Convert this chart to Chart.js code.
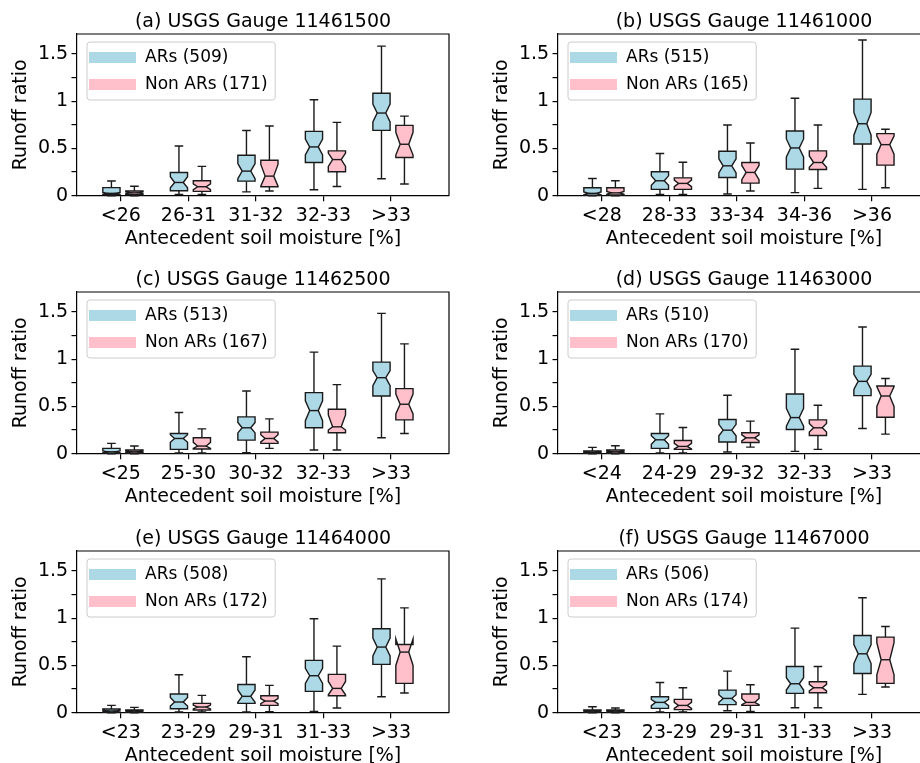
<!DOCTYPE html>
<html>
<head>
<meta charset="utf-8">
<script src="https://cdn.jsdelivr.net/npm/chart.js@4.4.1/dist/chart.umd.min.js"></script>
<style>
  html, body { margin: 0; padding: 0; background: #ffffff; }
  #page { position: relative; width: 920px; height: 763px; overflow: hidden; background: #ffffff; }
  #page canvas { position: absolute; }
</style>
</head>
<body>
<div id="page"></div>
<script>
// ---------------- data ----------------
const panelTitles = ['(a) USGS Gauge 11461500', '(b) USGS Gauge 11461000', '(c) USGS Gauge 11462500',
                     '(d) USGS Gauge 11463000', '(e) USGS Gauge 11464000', '(f) USGS Gauge 11467000'];
const moistureBins = [
  ['<26', '26-31', '31-32', '32-33', '>33'],
  ['<28', '28-33', '33-34', '34-36', '>36'],
  ['<25', '25-30', '30-32', '32-33', '>33'],
  ['<24', '24-29', '29-32', '32-33', '>33'],
  ['<23', '23-29', '29-31', '31-33', '>33'],
  ['<23', '23-29', '29-31', '31-33', '>33']
];
const arCounts = [509, 515, 513, 510, 508, 506];
const nonArCounts = [171, 165, 167, 170, 172, 174];
const yTickValues = [0, 0.25, 0.5, 0.75, 1, 1.25, 1.5];
const yLabelValues = [0, 0.5, 1, 1.5];
const xAxisTitle = 'Antecedent soil moisture [%]';
const yAxisTitle = 'Runoff ratio';

// AR box statistics (one row per panel, one value per moisture bin)
const arMin = [
  [0, 0.014, 0.04, 0.063, 0.179], [0, 0.014, 0.018, 0.032, 0.067], [0, 0.007, 0.01, 0.039, 0.168],
  [0, 0.007, 0.018, 0.025, 0.267], [0, 0.007, 0.007, 0.014, 0.169], [0, 0.007, 0.021, 0.053, 0.194]];
const arQ1 = [
  [0.01, 0.053, 0.154, 0.351, 0.691], [0.005, 0.067, 0.193, 0.281, 0.547], [0.005, 0.046, 0.144, 0.274, 0.61],
  [0.003, 0.056, 0.123, 0.256, 0.614], [0.005, 0.042, 0.099, 0.225, 0.511], [0.005, 0.046, 0.085, 0.204, 0.415]];
const arNotchLo = [
  [0.015, 0.084, 0.18, 0.43, 0.78], [0.01, 0.11, 0.24, 0.41, 0.64], [0.01, 0.12, 0.22, 0.35, 0.72],
  [0.008, 0.1, 0.19, 0.29, 0.68], [0.01, 0.07, 0.11, 0.31, 0.6], [0.01, 0.075, 0.11, 0.24, 0.52]];
const arMedian = [
  [0.025, 0.14, 0.26, 0.516, 0.874], [0.025, 0.158, 0.316, 0.505, 0.761], [0.02, 0.161, 0.274, 0.456, 0.804],
  [0.014, 0.147, 0.249, 0.382, 0.765], [0.018, 0.113, 0.173, 0.391, 0.694], [0.018, 0.109, 0.151, 0.306, 0.623]];
const arNotchHi = [
  [0.035, 0.2, 0.34, 0.6, 0.97], [0.04, 0.21, 0.39, 0.6, 0.88], [0.03, 0.2, 0.33, 0.56, 0.88],
  [0.02, 0.19, 0.31, 0.48, 0.84], [0.026, 0.16, 0.24, 0.47, 0.79], [0.024, 0.14, 0.19, 0.37, 0.72]];
const arQ3 = [
  [0.085, 0.246, 0.428, 0.68, 1.084], [0.084, 0.253, 0.47, 0.684, 1.021], [0.056, 0.214, 0.389, 0.646, 0.968],
  [0.028, 0.214, 0.361, 0.632, 0.926], [0.039, 0.197, 0.299, 0.553, 0.887], [0.028, 0.169, 0.239, 0.489, 0.817]];
const arMax = [
  [0.155, 0.526, 0.69, 1.014, 1.582], [0.182, 0.446, 0.747, 1.03, 1.646], [0.109, 0.435, 0.663, 1.074, 1.484],
  [0.067, 0.421, 0.618, 1.105, 1.34], [0.077, 0.401, 0.592, 0.993, 1.415], [0.063, 0.32, 0.44, 0.894, 1.215]];

// Non-AR box statistics
const nonArMin = [
  [0, 0.014, 0.05, 0.098, 0.123], [0, 0.014, 0.049, 0.077, 0.084], [0, 0.007, 0.056, 0.039, 0.214],
  [0, 0.007, 0.07, 0.046, 0.207], [0, 0.007, 0.011, 0.049, 0.208], [0, 0.007, 0.014, 0.053, 0.271]];
const nonArQ1 = [
  [0.01, 0.046, 0.095, 0.253, 0.404], [0.007, 0.067, 0.133, 0.277, 0.323], [0.005, 0.049, 0.109, 0.221, 0.358],
  [0.005, 0.046, 0.119, 0.193, 0.386], [0.005, 0.028, 0.077, 0.18, 0.31], [0.005, 0.032, 0.077, 0.211, 0.31]];
const nonArNotchLo = [
  [0.02, 0.065, 0.1, 0.31, 0.43], [0.015, 0.095, 0.17, 0.3, 0.44], [0.012, 0.055, 0.125, 0.25, 0.42],
  [0.012, 0.05, 0.135, 0.23, 0.5], [0.01, 0.04, 0.095, 0.19, 0.5], [0.01, 0.045, 0.085, 0.23, 0.4]];
const nonArMedian = [
  [0.03, 0.095, 0.207, 0.382, 0.544], [0.03, 0.13, 0.246, 0.351, 0.54], [0.02, 0.081, 0.161, 0.284, 0.523],
  [0.02, 0.077, 0.168, 0.274, 0.61], [0.018, 0.06, 0.123, 0.257, 0.641], [0.018, 0.077, 0.109, 0.264, 0.56]];
const nonArNotchHi = [
  [0.04, 0.125, 0.33, 0.45, 0.67], [0.045, 0.165, 0.32, 0.42, 0.63], [0.028, 0.12, 0.2, 0.41, 0.63],
  [0.028, 0.11, 0.2, 0.32, 0.71], [0.024, 0.08, 0.15, 0.33, 0.78], [0.024, 0.11, 0.15, 0.3, 0.74]];
const nonArQ3 = [
  [0.05, 0.158, 0.375, 0.474, 0.744], [0.084, 0.189, 0.351, 0.474, 0.656], [0.039, 0.168, 0.228, 0.47, 0.688],
  [0.039, 0.14, 0.221, 0.358, 0.716], [0.028, 0.099, 0.18, 0.405, 0.722], [0.028, 0.141, 0.197, 0.327, 0.799]];
const nonArMax = [
  [0.1, 0.31, 0.737, 0.775, 0.842], [0.158, 0.354, 0.558, 0.747, 0.702], [0.081, 0.263, 0.368, 0.73, 1.161],
  [0.084, 0.277, 0.344, 0.512, 0.796], [0.056, 0.183, 0.289, 0.704, 1.109], [0.049, 0.264, 0.296, 0.489, 0.912]];

// ---------------- style ----------------
const FONT = '"DejaVu Sans", "Liberation Sans", sans-serif';
const AR_COLOR = '#add8e6';
const NONAR_COLOR = '#ffc0cb';
const LINE_COLOR = '#1a1a1a';
const AR_OFFSET = -0.14;
const NONAR_OFFSET = 0.2;
const BOX_WIDTH = 0.255;
const CANVAS_W = 460, CANVAS_H = 258;
const panelPos = [[0, 0], [481, 0], [0, 258], [481, 258], [0, 517], [481, 517]];

Chart.defaults.font.family = FONT;
Chart.defaults.color = '#000';

const notchedBoxPlugin = {
  id: 'notchedBoxes',
  afterDatasetsDraw(chart) {
    const { ctx, scales: { x, y } } = chart;
    ctx.save();
    ctx.lineJoin = 'miter';
    ctx.strokeStyle = LINE_COLOR;
    ctx.lineWidth = 1.4;
    chart.data.datasets.forEach(ds => {
      const s = ds.stats;
      s.med.forEach((m, i) => {
        const c = i + 1 + ds.boxOffset;
        const L = x.getPixelForValue(c - BOX_WIDTH / 2), R = x.getPixelForValue(c + BOX_WIDTH / 2);
        const nL = x.getPixelForValue(c - BOX_WIDTH / 4), nR = x.getPixelForValue(c + BOX_WIDTH / 4);
        const cx = x.getPixelForValue(c);
        const py = v => y.getPixelForValue(v);
        // whiskers and caps
        ctx.beginPath();
        ctx.moveTo(cx, py(s.q1[i])); ctx.lineTo(cx, py(s.min[i]));
        ctx.moveTo(cx, py(s.q3[i])); ctx.lineTo(cx, py(s.max[i]));
        ctx.moveTo(nL, py(s.min[i])); ctx.lineTo(nR, py(s.min[i]));
        ctx.moveTo(nL, py(s.max[i])); ctx.lineTo(nR, py(s.max[i]));
        ctx.stroke();
        // notched box
        const pts = [[L, s.q1[i]], [R, s.q1[i]], [R, s.lo[i]], [nR, m], [R, s.hi[i]], [R, s.q3[i]],
                     [L, s.q3[i]], [L, s.hi[i]], [nL, m], [L, s.lo[i]]];
        ctx.beginPath();
        pts.forEach((p, k) => k ? ctx.lineTo(p[0], py(p[1])) : ctx.moveTo(p[0], py(p[1])));
        ctx.closePath();
        ctx.fillStyle = ds.backgroundColor;
        ctx.fill();
        ctx.stroke();
        // median
        ctx.beginPath();
        ctx.moveTo(nL, py(m)); ctx.lineTo(nR, py(m));
        ctx.stroke();
      });
    });
    // top and right spines
    const a = chart.chartArea;
    ctx.lineWidth = 1.2;
    ctx.strokeStyle = '#000';
    ctx.beginPath();
    ctx.moveTo(a.left, a.top); ctx.lineTo(a.right, a.top); ctx.lineTo(a.right, a.bottom);
    ctx.stroke();
    ctx.restore();
  }
};

const insetLegendPlugin = {
  id: 'insetLegend',
  afterDraw(chart) {
    const { ctx, chartArea } = chart;
    ctx.save();
    ctx.font = '17px ' + FONT;
    const labels = chart.data.datasets.map(d => d.label);
    const textW = Math.max(...labels.map(l => ctx.measureText(l).width));
    const x0 = chartArea.left + 10, y0 = chartArea.top + 8;
    const w = 58 + textW + 7.5, h = 58, r = 3;
    ctx.beginPath();
    ctx.moveTo(x0 + r, y0);
    ctx.arcTo(x0 + w, y0, x0 + w, y0 + h, r);
    ctx.arcTo(x0 + w, y0 + h, x0, y0 + h, r);
    ctx.arcTo(x0, y0 + h, x0, y0, r);
    ctx.arcTo(x0, y0, x0 + w, y0, r);
    ctx.closePath();
    ctx.fillStyle = 'rgba(255,255,255,0.8)';
    ctx.fill();
    ctx.strokeStyle = '#cccccc';
    ctx.lineWidth = 1;
    ctx.stroke();
    chart.data.datasets.forEach((ds, k) => {
      const cy = y0 + 15.5 + k * 27;
      ctx.fillStyle = ds.backgroundColor;
      ctx.fillRect(x0 + 2, cy - 5.5, 47, 11);
      ctx.fillStyle = '#000';
      ctx.textBaseline = 'middle';
      ctx.textAlign = 'left';
      ctx.fillText(ds.label, x0 + 58, cy);
    });
    ctx.restore();
  }
};

function makeStats(p, isAr) {
  return isAr
    ? { min: arMin[p], q1: arQ1[p], lo: arNotchLo[p], med: arMedian[p], hi: arNotchHi[p], q3: arQ3[p], max: arMax[p] }
    : { min: nonArMin[p], q1: nonArQ1[p], lo: nonArNotchLo[p], med: nonArMedian[p], hi: nonArNotchHi[p], q3: nonArQ3[p], max: nonArMax[p] };
}

const page = document.getElementById('page');
panelTitles.forEach((title, p) => {
  const cv = document.createElement('canvas');
  cv.width = CANVAS_W; cv.height = CANVAS_H;
  cv.style.width = CANVAS_W + 'px'; cv.style.height = CANVAS_H + 'px';
  cv.style.left = panelPos[p][0] + 'px'; cv.style.top = panelPos[p][1] + 'px';
  page.appendChild(cv);
  const bins = moistureBins[p];
  const arStats = makeStats(p, true), nonStats = makeStats(p, false);
  new Chart(cv, {
    type: 'scatter',
    data: {
      datasets: [
        { label: 'ARs (' + arCounts[p] + ')', backgroundColor: AR_COLOR, borderColor: LINE_COLOR,
          boxOffset: AR_OFFSET, stats: arStats, pointRadius: 0,
          data: bins.map((b, i) => ({ x: i + 1 + AR_OFFSET, y: arStats.med[i] })) },
        { label: 'Non ARs (' + nonArCounts[p] + ')', backgroundColor: NONAR_COLOR, borderColor: LINE_COLOR,
          boxOffset: NONAR_OFFSET, stats: nonStats, pointRadius: 0,
          data: bins.map((b, i) => ({ x: i + 1 + NONAR_OFFSET, y: nonStats.med[i] })) }
      ]
    },
    options: {
      responsive: false,
      animation: false,
      devicePixelRatio: 1,
      events: [],
      layout: { padding: { left: 0, right: 11, top: 0, bottom: 0 } },
      plugins: {
        legend: { display: false },
        tooltip: { enabled: false },
        title: { display: true, text: title, fullSize: false, color: '#000',
                 font: { size: 19, weight: 'normal', family: FONT }, padding: { top: 10.3, bottom: 0.9 } }
      },
      scales: {
        x: {
          type: 'linear', min: 0.35, max: 5.86,
          afterBuildTicks: s => { s.ticks = bins.map((b, i) => ({ value: i + 1 })); },
          afterFit: s => { s.height = CANVAS_H - 195.7 - 0; },
          ticks: { autoSkip: false, maxRotation: 0, padding: 3, color: '#000', font: { size: 19, family: FONT },
                   callback: v => bins[Math.round(v) - 1] },
          grid: { display: true, drawOnChartArea: false, drawTicks: true, tickLength: 5.5, color: '#000', lineWidth: 1.2 },
          border: { display: true, color: '#000', width: 1.2 },
          title: { display: true, text: xAxisTitle, color: '#000', font: { size: 19, family: FONT },
                   padding: { top: 0, bottom: 7.6 } }
        },
        y: {
          type: 'linear', min: 0, max: 1.71,
          afterBuildTicks: s => { s.ticks = yTickValues.map(v => ({ value: v })); },
          afterFit: s => { s.width = 77; },
          ticks: { padding: 3.4, color: '#000', font: { size: 19, family: FONT },
                   callback: v => yLabelValues.includes(v) ? String(v) : '' },
          grid: { display: true, drawOnChartArea: false, drawTicks: true, tickLength: 5.5, color: '#000', lineWidth: 1.2 },
          border: { display: true, color: '#000', width: 1.2 },
          title: { display: true, text: yAxisTitle, color: '#000', font: { size: 19, family: FONT },
                   padding: { top: 9.4, bottom: 0 } }
        }
      }
    },
    plugins: [notchedBoxPlugin, insetLegendPlugin]
  });
});
</script>
</body>
</html>
